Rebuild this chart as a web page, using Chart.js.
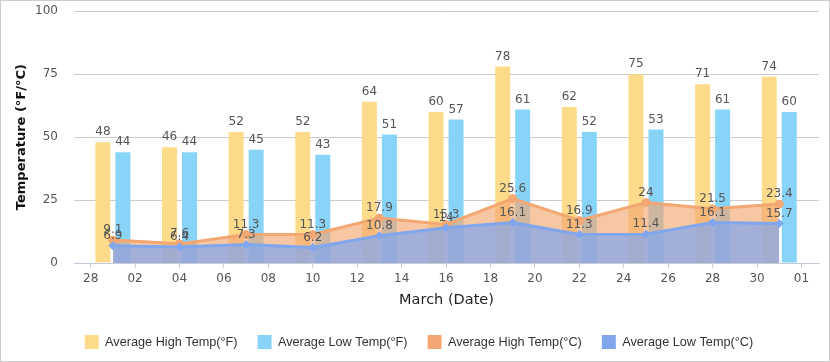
<!DOCTYPE html>
<html>
<head>
<meta charset="utf-8">
<script src="https://cdn.jsdelivr.net/npm/chart.js@4/dist/chart.umd.min.js"></script>
<style>
html, body { margin: 0; padding: 0; background: #fff; }
#wrap { width: 830px; height: 362px; box-sizing: border-box; border: 1px solid #ccc; }
</style>
</head>
<body>
<div id="wrap"><canvas id="tempChart" width="828" height="360"></canvas></div>
<script>
// giorni di marzo (1 = 1 marzo, 0 = 28 febbraio, 32 = 1 aprile)
const days = [1, 4, 7, 10, 13, 16, 19, 22, 25, 28, 31];
const highF = [48, 46, 52, 52, 64, 60, 78, 62, 75, 71, 74];
const lowF = [44, 44, 45, 43, 51, 57, 61, 52, 53, 61, 60];
const highC = [9.1, 7.6, 11.3, 11.3, 17.9, 15.3, 25.6, 16.9, 24, 21.5, 23.4];
const lowC = [6.9, 6.4, 7.3, 6.2, 10.8, 14, 16.1, 11.3, 11.4, 16.1, 15.7];
const seriesNames = ['Average High Temp(°F)', 'Average Low Temp(°F)', 'Average High Temp(°C)', 'Average Low Temp(°C)'];
const xTicks = [0, 2, 4, 6, 8, 10, 12, 14, 16, 18, 20, 22, 24, 26, 28, 30, 32];
const xTickLabels = ['28', '02', '04', '06', '08', '10', '12', '14', '16', '18', '20', '22', '24', '26', '28', '30', '01'];
const yTicks = [0, 25, 50, 75, 100];

const colors = ['#FDDB8B', '#88D4F8', '#F3A772', '#80A6EE'];
const fills = ['', '', 'rgba(243,167,114,0.65)', 'rgba(128,166,238,0.72)'];

const pts = vals => days.map((d, i) => ({ x: d, y: vals[i] }));

// etichette con i valori sopra barre e punti
const valueLabels = {
    id: 'valueLabels',
    afterDatasetsDraw(chart) {
        const ctx = chart.ctx;
        ctx.save();
        ctx.font = '12px "DejaVu Sans"';
        ctx.fillStyle = '#555';
        ctx.textAlign = 'center';
        ctx.textBaseline = 'middle';
        chart.data.datasets.forEach((ds, di) => {
            const meta = chart.getDatasetMeta(di);
            meta.data.forEach((el, i) => {
                ctx.fillText(String(ds.data[i].y), el.x, el.y - 10);
            });
        });
        ctx.restore();
    }
};

// sposta un po' la legenda a destra come nell'originale
const legendShift = {
    id: 'legendShift',
    afterLayout(chart) {
        chart.legend.left += 9;
        chart.legend.right += 9;
    }
};

const tickFont = { family: 'DejaVu Sans', size: 12 };

new Chart(document.getElementById('tempChart'), {
    type: 'bar',
    data: {
        datasets: [
            { type: 'bar', label: seriesNames[0], data: pts(highF), backgroundColor: colors[0], order: 3,
              categoryPercentage: 0.9, barPercentage: 0.75 },
            { type: 'bar', label: seriesNames[1], data: pts(lowF), backgroundColor: colors[1], order: 3,
              categoryPercentage: 0.9, barPercentage: 0.75 },
            { type: 'line', label: seriesNames[2], data: pts(highC), borderColor: colors[2], backgroundColor: fills[2],
              fill: 'origin', borderWidth: 3, tension: 0, pointRadius: 4, pointBackgroundColor: colors[2],
              pointBorderColor: colors[2], pointBorderWidth: 1, order: 2 },
            { type: 'line', label: seriesNames[3], data: pts(lowC), borderColor: colors[3], backgroundColor: fills[3],
              fill: 'origin', borderWidth: 3, tension: 0, pointRadius: 4, pointStyle: 'rectRot',
              pointBackgroundColor: colors[3], pointBorderColor: colors[3], pointBorderWidth: 1, order: 1 }
        ]
    },
    options: {
        responsive: false,
        animation: false,
        layout: { padding: { top: 10, right: 10, bottom: 2, left: 0 } },
        scales: {
            x: {
                type: 'linear',
                min: -0.75,
                max: 32.79,
                offset: false,
                bounds: 'data',
                afterBuildTicks: s => { s.ticks = xTicks.map(v => ({ value: v })); },
                afterFit: s => { s.height = 52; },
                ticks: {
                    callback: v => xTickLabels[xTicks.indexOf(v)],
                    color: '#555', font: tickFont, padding: 4, maxRotation: 0, autoSkip: false
                },
                grid: { drawOnChartArea: false, color: '#C4CCDB', tickLength: 5, offset: false },
                border: { color: '#C4CCDB' },
                title: { display: true, text: 'March (Date)', color: '#222',
                         font: { family: 'DejaVu Sans', size: 14.5 }, padding: { top: 0, bottom: 6 } }
            },
            y: {
                min: 0,
                max: 100,
                afterBuildTicks: s => { s.ticks = yTicks.map(v => ({ value: v })); },
                afterFit: s => { s.width = 73; },
                ticks: { color: '#555', font: tickFont, padding: 3 },
                grid: { color: '#CCCCCC', drawTicks: true, tickLength: 13, tickColor: 'rgba(0,0,0,0)' },
                border: { display: false },
                title: { display: true, text: 'Temperature (°F/°C)', color: '#111',
                         font: { family: 'DejaVu Sans', size: 13, weight: 'bold' }, padding: { top: 13, bottom: 0 } }
            }
        },
        plugins: {
            tooltip: { enabled: false },
            legend: {
                position: 'bottom',
                labels: {
                    boxWidth: 14,
                    boxHeight: 14,
                    padding: 20,
                    color: '#333',
                    font: { family: 'Liberation Sans', size: 12.7 },
                    sort: (a, b) => a.datasetIndex - b.datasetIndex,
                    generateLabels: chart => Chart.defaults.plugins.legend.labels.generateLabels(chart).map(item => {
                        item.fillStyle = colors[item.datasetIndex];
                        item.strokeStyle = colors[item.datasetIndex];
                        item.lineWidth = 0;
                        return item;
                    })
                }
            }
        }
    },
    plugins: [valueLabels, legendShift]
});
</script>
</body>
</html>
